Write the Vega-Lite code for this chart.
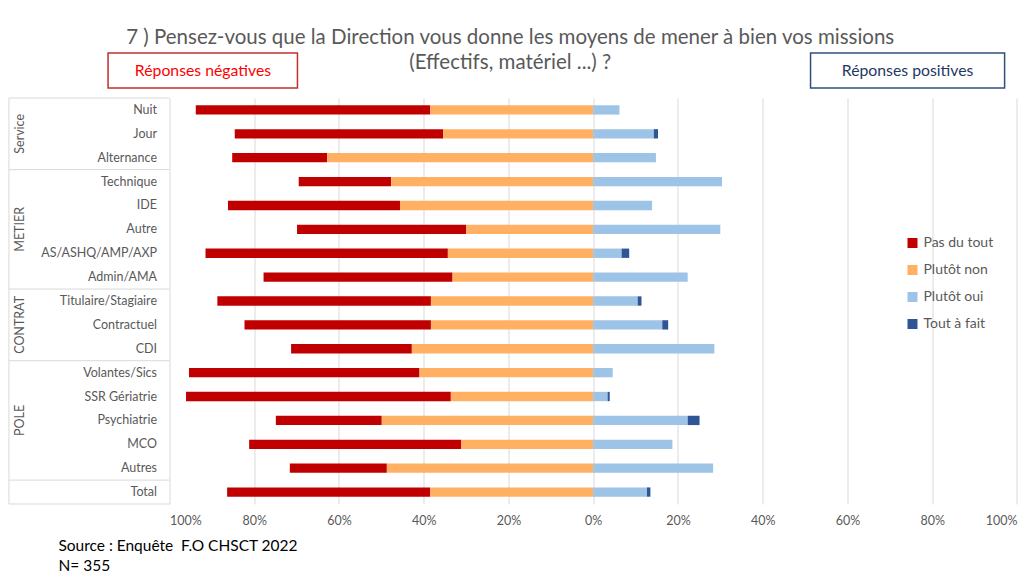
{
  "$schema": "https://vega.github.io/schema/vega-lite/v6.json",
  "padding": {"left": 7.5, "top": 27, "right": 5, "bottom": 5},
  "spacing": 8,
  "background": "white",
  "config": {
    "view": {"stroke": null},
    "font": "Lato",
    "text": {"font": "Lato"}
  },
  "resolve": {"legend": {"color": "independent"}},
  "vconcat": [
    {
      "width": 847.4,
      "height": 35,
      "title": {
        "text": ["7 ) Pensez-vous que la Direction vous donne les moyens de mener à bien vos missions", "(Effectifs, matériel ...) ?"],
        "anchor": "middle",
        "frame": "group",
        "dx": -83,
        "offset": -21,
        "fontSize": 20.5,
        "font": "Lato",
        "fontWeight": "normal",
        "color": "#595959",
        "lineHeight": 25
      },
      "data": {"values": [{}]},
      "layer": [
        {
          "mark": {"type": "rect", "fill": "white", "stroke": "#C0312B", "strokeWidth": 1.5},
          "encoding": {
            "x": {"datum": -114.5, "type": "quantitative", "scale": {"domain": [-100, 100], "nice": false, "zero": false}, "axis": null},
            "x2": {"datum": -69.8}
          }
        },
        {
          "mark": {"type": "rect", "fill": "white", "stroke": "#2F4F7F", "strokeWidth": 1.5},
          "encoding": {
            "x": {"datum": 51.3, "type": "quantitative"},
            "x2": {"datum": 97.1}
          }
        },
        {
          "mark": {"type": "text", "text": "Réponses négatives", "fontSize": 15.8, "color": "#FF0000", "font": "Lato"},
          "encoding": {"x": {"datum": -92.1, "type": "quantitative"}}
        },
        {
          "mark": {"type": "text", "text": "Réponses positives", "fontSize": 15.8, "color": "#1F3864", "font": "Lato"},
          "encoding": {"x": {"datum": 74.2, "type": "quantitative"}}
        }
      ]
    },
    {
      "width": 847.4,
      "height": 406,
      "data": {
        "values": [
          {"cat": "Nuit", "groupe": "Service", "reponse": "Pas du tout", "valeur": -55.3},
          {"cat": "Nuit", "groupe": "Service", "reponse": "Plutôt non", "valeur": -38.5},
          {"cat": "Nuit", "groupe": "Service", "reponse": "Plutôt oui", "valeur": 6.2},
          {"cat": "Jour", "groupe": "Service", "reponse": "Pas du tout", "valeur": -49.2},
          {"cat": "Jour", "groupe": "Service", "reponse": "Plutôt non", "valeur": -35.4},
          {"cat": "Jour", "groupe": "Service", "reponse": "Plutôt oui", "valeur": 14.3},
          {"cat": "Jour", "groupe": "Service", "reponse": "Tout à fait", "valeur": 1.0},
          {"cat": "Alternance", "groupe": "Service", "reponse": "Pas du tout", "valeur": -22.4},
          {"cat": "Alternance", "groupe": "Service", "reponse": "Plutôt non", "valeur": -62.8},
          {"cat": "Alternance", "groupe": "Service", "reponse": "Plutôt oui", "valeur": 14.8},
          {"cat": "Technique", "groupe": "METIER", "reponse": "Pas du tout", "valeur": -21.8},
          {"cat": "Technique", "groupe": "METIER", "reponse": "Plutôt non", "valeur": -47.7},
          {"cat": "Technique", "groupe": "METIER", "reponse": "Plutôt oui", "valeur": 30.4},
          {"cat": "IDE", "groupe": "METIER", "reponse": "Pas du tout", "valeur": -40.6},
          {"cat": "IDE", "groupe": "METIER", "reponse": "Plutôt non", "valeur": -45.6},
          {"cat": "IDE", "groupe": "METIER", "reponse": "Plutôt oui", "valeur": 13.9},
          {"cat": "Autre", "groupe": "METIER", "reponse": "Pas du tout", "valeur": -39.9},
          {"cat": "Autre", "groupe": "METIER", "reponse": "Plutôt non", "valeur": -30.0},
          {"cat": "Autre", "groupe": "METIER", "reponse": "Plutôt oui", "valeur": 30.0},
          {"cat": "AS/ASHQ/AMP/AXP", "groupe": "METIER", "reponse": "Pas du tout", "valeur": -57.2},
          {"cat": "AS/ASHQ/AMP/AXP", "groupe": "METIER", "reponse": "Plutôt non", "valeur": -34.3},
          {"cat": "AS/ASHQ/AMP/AXP", "groupe": "METIER", "reponse": "Plutôt oui", "valeur": 6.7},
          {"cat": "AS/ASHQ/AMP/AXP", "groupe": "METIER", "reponse": "Tout à fait", "valeur": 1.8},
          {"cat": "Admin/AMA", "groupe": "METIER", "reponse": "Pas du tout", "valeur": -44.6},
          {"cat": "Admin/AMA", "groupe": "METIER", "reponse": "Plutôt non", "valeur": -33.2},
          {"cat": "Admin/AMA", "groupe": "METIER", "reponse": "Plutôt oui", "valeur": 22.3},
          {"cat": "Titulaire/Stagiaire", "groupe": "CONTRAT", "reponse": "Pas du tout", "valeur": -50.4},
          {"cat": "Titulaire/Stagiaire", "groupe": "CONTRAT", "reponse": "Plutôt non", "valeur": -38.3},
          {"cat": "Titulaire/Stagiaire", "groupe": "CONTRAT", "reponse": "Plutôt oui", "valeur": 10.5},
          {"cat": "Titulaire/Stagiaire", "groupe": "CONTRAT", "reponse": "Tout à fait", "valeur": 0.9},
          {"cat": "Contractuel", "groupe": "CONTRAT", "reponse": "Pas du tout", "valeur": -44.0},
          {"cat": "Contractuel", "groupe": "CONTRAT", "reponse": "Plutôt non", "valeur": -38.3},
          {"cat": "Contractuel", "groupe": "CONTRAT", "reponse": "Plutôt oui", "valeur": 16.3},
          {"cat": "Contractuel", "groupe": "CONTRAT", "reponse": "Tout à fait", "valeur": 1.4},
          {"cat": "CDI", "groupe": "CONTRAT", "reponse": "Pas du tout", "valeur": -28.5},
          {"cat": "CDI", "groupe": "CONTRAT", "reponse": "Plutôt non", "valeur": -42.8},
          {"cat": "CDI", "groupe": "CONTRAT", "reponse": "Plutôt oui", "valeur": 28.6},
          {"cat": "Volantes/Sics", "groupe": "POLE", "reponse": "Pas du tout", "valeur": -54.4},
          {"cat": "Volantes/Sics", "groupe": "POLE", "reponse": "Plutôt non", "valeur": -41.0},
          {"cat": "Volantes/Sics", "groupe": "POLE", "reponse": "Plutôt oui", "valeur": 4.6},
          {"cat": "SSR Gériatrie", "groupe": "POLE", "reponse": "Pas du tout", "valeur": -62.5},
          {"cat": "SSR Gériatrie", "groupe": "POLE", "reponse": "Plutôt non", "valeur": -33.6},
          {"cat": "SSR Gériatrie", "groupe": "POLE", "reponse": "Plutôt oui", "valeur": 3.4},
          {"cat": "SSR Gériatrie", "groupe": "POLE", "reponse": "Tout à fait", "valeur": 0.5},
          {"cat": "Psychiatrie", "groupe": "POLE", "reponse": "Pas du tout", "valeur": -25.0},
          {"cat": "Psychiatrie", "groupe": "POLE", "reponse": "Plutôt non", "valeur": -49.9},
          {"cat": "Psychiatrie", "groupe": "POLE", "reponse": "Plutôt oui", "valeur": 22.3},
          {"cat": "Psychiatrie", "groupe": "POLE", "reponse": "Tout à fait", "valeur": 2.8},
          {"cat": "MCO", "groupe": "POLE", "reponse": "Pas du tout", "valeur": -50.0},
          {"cat": "MCO", "groupe": "POLE", "reponse": "Plutôt non", "valeur": -31.2},
          {"cat": "MCO", "groupe": "POLE", "reponse": "Plutôt oui", "valeur": 18.7},
          {"cat": "Autres", "groupe": "POLE", "reponse": "Pas du tout", "valeur": -22.9},
          {"cat": "Autres", "groupe": "POLE", "reponse": "Plutôt non", "valeur": -48.7},
          {"cat": "Autres", "groupe": "POLE", "reponse": "Plutôt oui", "valeur": 28.3},
          {"cat": "Total", "groupe": "", "reponse": "Pas du tout", "valeur": -47.9},
          {"cat": "Total", "groupe": "", "reponse": "Plutôt non", "valeur": -38.5},
          {"cat": "Total", "groupe": "", "reponse": "Plutôt oui", "valeur": 12.7},
          {"cat": "Total", "groupe": "", "reponse": "Tout à fait", "valeur": 0.8}
        ]
      },
      "layer": [
        {
          "transform": [{"filter": "datum.valeur < 0"}],
          "mark": {"type": "bar", "height": {"band": 0.39}},
          "encoding": {
            "y": {
              "field": "cat", "type": "nominal",
              "sort": ["Nuit", "Jour", "Alternance", "Technique", "IDE", "Autre", "AS/ASHQ/AMP/AXP", "Admin/AMA", "Titulaire/Stagiaire", "Contractuel", "CDI", "Volantes/Sics", "SSR Gériatrie", "Psychiatrie", "MCO", "Autres", "Total"],
              "scale": {"paddingInner": 0, "paddingOuter": 0},
              "axis": {"title": null, "domain": false, "ticks": false, "tickSize": 0, "labelPadding": 13, "labelFontSize": 12.5, "labelColor": "#595959", "labelFont": "Lato"}
            },
            "x": {
              "field": "valeur", "type": "quantitative", "stack": "zero",
              "scale": {"domain": [-100, 100], "nice": false},
              "axis": {
                "values": [-100, -80, -60, -40, -20, 0, 20, 40, 60, 80, 100],
                "labelExpr": "abs(datum.value) + '%'",
                "grid": true, "gridColor": "#D9D9D9", "gridWidth": 1,
                "domain": false, "ticks": false, "tickSize": 0,
                "labelPadding": 11, "labelFontSize": 12.5, "labelColor": "#595959", "labelFont": "Lato",
                "title": ["Source : Enquête\u00a0 F.O CHSCT 2022", "N= 355"],
                "titleX": -111.6, "titleY": 35, "titleAlign": "left", "titleAnchor": "start", "titleBaseline": "top",
                "titleFontSize": 15.5, "titleFontWeight": "normal", "titleColor": "#000000", "titleFont": "Lato", "titleLineHeight": 20
              }
            },
            "color": {
              "field": "reponse", "type": "nominal",
              "scale": {"domain": ["Pas du tout", "Plutôt non", "Plutôt oui", "Tout à fait"], "range": ["#C00000", "#FFB062", "#9DC3E6", "#2F5597"]},
              "legend": {"orient": "none", "legendX": 736, "legendY": 138, "title": null, "symbolType": "square", "symbolSize": 100, "symbolStrokeWidth": 0, "labelFontSize": 14, "labelColor": "#595959", "labelFont": "Lato", "rowPadding": 13}
            },
            "order": {"field": "reponse", "sort": "descending"}
          }
        },
        {
          "transform": [{"filter": "datum.valeur > 0"}],
          "mark": {"type": "bar", "height": {"band": 0.39}},
          "encoding": {
            "y": {"field": "cat", "type": "nominal", "sort": ["Nuit", "Jour", "Alternance", "Technique", "IDE", "Autre", "AS/ASHQ/AMP/AXP", "Admin/AMA", "Titulaire/Stagiaire", "Contractuel", "CDI", "Volantes/Sics", "SSR Gériatrie", "Psychiatrie", "MCO", "Autres", "Total"]},
            "x": {"field": "valeur", "type": "quantitative", "stack": "zero"},
            "color": {"field": "reponse", "type": "nominal"},
            "order": {"field": "reponse", "sort": "ascending"}
          }
        },
        {
          "transform": [{"filter": "datum.reponse == 'Pas du tout' && indexof(['Nuit','Technique','Titulaire/Stagiaire','Volantes/Sics','Total'], datum.cat) >= 0"}],
          "mark": {"type": "rule", "color": "#D9D9D9", "strokeWidth": 1},
          "encoding": {
            "y": {"field": "cat", "type": "nominal", "bandPosition": 0, "sort": ["Nuit", "Jour", "Alternance", "Technique", "IDE", "Autre", "AS/ASHQ/AMP/AXP", "Admin/AMA", "Titulaire/Stagiaire", "Contractuel", "CDI", "Volantes/Sics", "SSR Gériatrie", "Psychiatrie", "MCO", "Autres", "Total"]},
            "x": {"datum": -137.9, "type": "quantitative"},
            "x2": {"datum": -100}
          }
        },
        {
          "transform": [{"filter": "datum.reponse == 'Pas du tout' && datum.cat == 'Total'"}],
          "mark": {"type": "rule", "color": "#D9D9D9", "strokeWidth": 1},
          "encoding": {
            "y": {"field": "cat", "type": "nominal", "bandPosition": 1, "sort": ["Nuit", "Jour", "Alternance", "Technique", "IDE", "Autre", "AS/ASHQ/AMP/AXP", "Admin/AMA", "Titulaire/Stagiaire", "Contractuel", "CDI", "Volantes/Sics", "SSR Gériatrie", "Psychiatrie", "MCO", "Autres", "Total"]},
            "x": {"datum": -137.9, "type": "quantitative"},
            "x2": {"datum": -100}
          }
        },
        {
          "transform": [{"filter": "datum.reponse == 'Pas du tout' && datum.cat == 'Nuit'"}],
          "mark": {"type": "rule", "color": "#D9D9D9", "strokeWidth": 1},
          "encoding": {
            "x": {"datum": -137.9, "type": "quantitative"}
          }
        },
        {
          "transform": [{"filter": "datum.reponse == 'Pas du tout' && indexof(['Jour','Autre','Contractuel','Psychiatrie'], datum.cat) >= 0"}],
          "mark": {"type": "text", "angle": 270, "fontSize": 12.5, "color": "#595959", "font": "Lato", "align": "center", "baseline": "middle"},
          "encoding": {
            "y": {"field": "cat", "type": "nominal", "sort": ["Nuit", "Jour", "Alternance", "Technique", "IDE", "Autre", "AS/ASHQ/AMP/AXP", "Admin/AMA", "Titulaire/Stagiaire", "Contractuel", "CDI", "Volantes/Sics", "SSR Gériatrie", "Psychiatrie", "MCO", "Autres", "Total"]},
            "x": {"datum": -135.4, "type": "quantitative"},
            "text": {"field": "groupe"}
          }
        }
      ]
    }
  ]
}
